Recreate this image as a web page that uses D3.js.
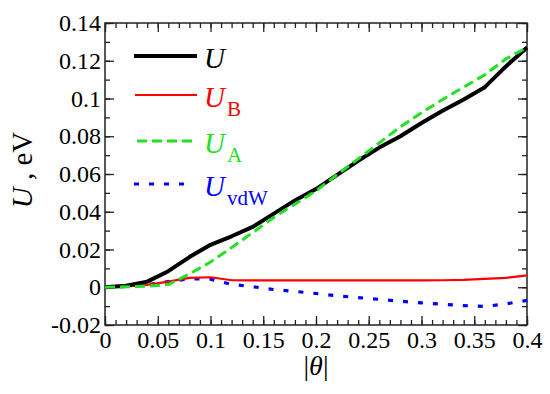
<!DOCTYPE html>
<html>
<head>
<meta charset="utf-8">
<script src="https://cdn.jsdelivr.net/npm/d3@7"></script>
<style>
  html, body { margin: 0; padding: 0; background: #fff; }
  svg { display: block; }
</style>
</head>
<body>
<svg id="chart" width="550" height="394"></svg>
<script>
// ---- data ----
const theta = [0, 0.02, 0.04, 0.06, 0.08, 0.10, 0.12, 0.14, 0.16, 0.18, 0.20,
               0.22, 0.24, 0.26, 0.28, 0.30, 0.32, 0.34, 0.36, 0.38, 0.40];
const U    = [0, 0.0008, 0.003, 0.0085, 0.016, 0.0225, 0.027, 0.032, 0.039, 0.046, 0.052,
              0.0595, 0.067, 0.074, 0.080, 0.087, 0.0935, 0.0995, 0.106, 0.117, 0.127];
const UB   = [0, 0.0004, 0.0013, 0.003, 0.005, 0.0053, 0.0037, 0.0036, 0.0036, 0.0036, 0.0036,
              0.0036, 0.0036, 0.0036, 0.0036, 0.0036, 0.0037, 0.0039, 0.0044, 0.005, 0.0063];
const UA   = [0, 0.0002, 0.0006, 0.0014, 0.007, 0.0134, 0.021, 0.029, 0.037, 0.044, 0.051,
              0.0597, 0.068, 0.0765, 0.085, 0.0925, 0.0995, 0.106, 0.1126, 0.121, 0.127];
const UvdW = [0, 0.0004, 0.0013, 0.003, 0.0045, 0.0043, 0.0015, 0.0003, -0.0012, -0.0022, -0.0033,
              -0.0045, -0.0055, -0.0064, -0.0074, -0.0083, -0.009, -0.0097, -0.0102, -0.0088, -0.007];
const xTicks = [0, 0.05, 0.1, 0.15, 0.2, 0.25, 0.3, 0.35, 0.4];
const xTickLabels = ["0", "0.05", "0.1", "0.15", "0.2", "0.25", "0.3", "0.35", "0.4"];
const yTicks = [-0.02, 0, 0.02, 0.04, 0.06, 0.08, 0.1, 0.12, 0.14];
const yTickLabels = ["-0.02", "0", "0.02", "0.04", "0.06", "0.08", "0.1", "0.12", "0.14"];
const seriesNames = ["U", "UB", "UA", "UvdW"];

// ---- layout ----
const FONT = "'Liberation Serif', 'Times New Roman', Times, serif";
const svg = d3.select("#chart").attr("font-family", FONT);
const L = 105, R = 527, T = 23, B = 325;
const x = d3.scaleLinear().domain([0, 0.4]).range([L, R]);
const y = d3.scaleLinear().domain([-0.02, 0.14]).range([B, T]);

const xMinor = d3.range(0, 41).map(i => i / 100);
const yMinor = d3.range(-2, 15).map(i => i / 100);

const fontSize = 24;
function styleAxis(g) {
  g.attr("font-family", FONT);
  g.select(".domain").remove();
  g.selectAll(".tick line").attr("stroke", "#222").attr("stroke-width", 1.3);
}
// minor ticks
svg.append("g").attr("transform", `translate(0,${B})`)
  .call(d3.axisBottom(x).tickValues(xMinor).tickSize(-5).tickFormat(""))
  .call(styleAxis);
svg.append("g").attr("transform", `translate(0,${T})`)
  .call(d3.axisTop(x).tickValues(xMinor).tickSize(-5).tickFormat(""))
  .call(styleAxis);
svg.append("g").attr("transform", `translate(${L},0)`)
  .call(d3.axisLeft(y).tickValues(yMinor).tickSize(-5).tickFormat(""))
  .call(styleAxis);
svg.append("g").attr("transform", `translate(${R},0)`)
  .call(d3.axisRight(y).tickValues(yMinor).tickSize(-5).tickFormat(""))
  .call(styleAxis);
// major ticks
const gx = svg.append("g").attr("transform", `translate(0,${B})`)
  .call(d3.axisBottom(x).tickValues(xTicks).tickSize(-9)
        .tickFormat((d, i) => xTickLabels[i]))
  .call(styleAxis);
gx.selectAll("text").attr("y", 6).attr("dy", "0.71em");
svg.append("g").attr("transform", `translate(0,${T})`)
  .call(d3.axisTop(x).tickValues(xTicks).tickSize(-9).tickFormat(""))
  .call(styleAxis);
const gy = svg.append("g").attr("transform", `translate(${L},0)`)
  .call(d3.axisLeft(y).tickValues(yTicks).tickSize(-9)
        .tickFormat((d, i) => yTickLabels[i]))
  .call(styleAxis);
gy.selectAll("text").attr("x", -4);
svg.append("g").attr("transform", `translate(${R},0)`)
  .call(d3.axisRight(y).tickValues(yTicks).tickSize(-9).tickFormat(""))
  .call(styleAxis);
svg.selectAll(".tick text")
  .attr("font-size", fontSize).attr("fill", "#000");

// frame
svg.append("rect").attr("x", L).attr("y", T).attr("width", R - L).attr("height", B - T)
  .attr("fill", "none").attr("stroke", "#222").attr("stroke-width", 1.5);

// ---- series ----
const styles = {
  U:    { color: "#000000", width: 4,   dash: null,   lx: [134, 197] },
  UB:   { color: "#ff0000", width: 2.2, dash: null,   lx: [135, 197] },
  UA:   { color: "#22e022", width: 3,   dash: "10,5", lx: [137, 192] },
  UvdW: { color: "#0000ff", width: 3.2, dash: "5,10", lx: [134, 185] }
};
const dataMap = { U, UB, UA, UvdW };
const line = d3.line().x(d => x(d[0])).y(d => y(d[1]));
const drawOrder = ["UvdW", "UB", "U", "UA"];
drawOrder.forEach(k => {
  const s = styles[k];
  svg.append("path")
    .datum(theta.map((t, i) => [t, dataMap[k][i]]))
    .attr("d", line)
    .attr("fill", "none")
    .attr("stroke", s.color)
    .attr("stroke-width", s.width)
    .attr("stroke-linejoin", "round")
    .attr("stroke-dasharray", s.dash);
});

// ---- legend ----
const legendY = [56, 95, 141, 184];
const subs = { U: null, UB: "B", UA: "A", UvdW: "vdW" };
seriesNames.forEach((k, i) => {
  const s = styles[k];
  const ly = legendY[i];
  svg.append("line").attr("x1", s.lx[0]).attr("x2", s.lx[1]).attr("y1", ly).attr("y2", ly)
    .attr("stroke", s.color).attr("stroke-width", s.width)
    .attr("stroke-dasharray", s.dash);
  const t = svg.append("text").attr("x", 204).attr("y", ly + 12)
    .attr("fill", s.color).attr("font-size", 29);
  t.append("tspan").attr("font-style", "italic").text("U");
  if (subs[k]) {
    t.append("tspan").attr("font-size", 21).attr("dx", 2).attr("dy", 9).text(subs[k]);
  }
});

// ---- axis titles ----
const xt = svg.append("text").attr("x", (L + R) / 2).attr("y", 375)
  .attr("text-anchor", "middle").attr("font-size", 28).attr("fill", "#000");
xt.append("tspan").text("|");
xt.append("tspan").attr("font-style", "italic").text("θ");
xt.append("tspan").text("|");

const yt = svg.append("text")
  .attr("transform", `translate(32,170) rotate(-90)`)
  .attr("text-anchor", "middle").attr("font-size", 29).attr("fill", "#000");
yt.append("tspan").attr("font-style", "italic").text("U");
yt.append("tspan").text(" , eV");
</script>
</body>
</html>
